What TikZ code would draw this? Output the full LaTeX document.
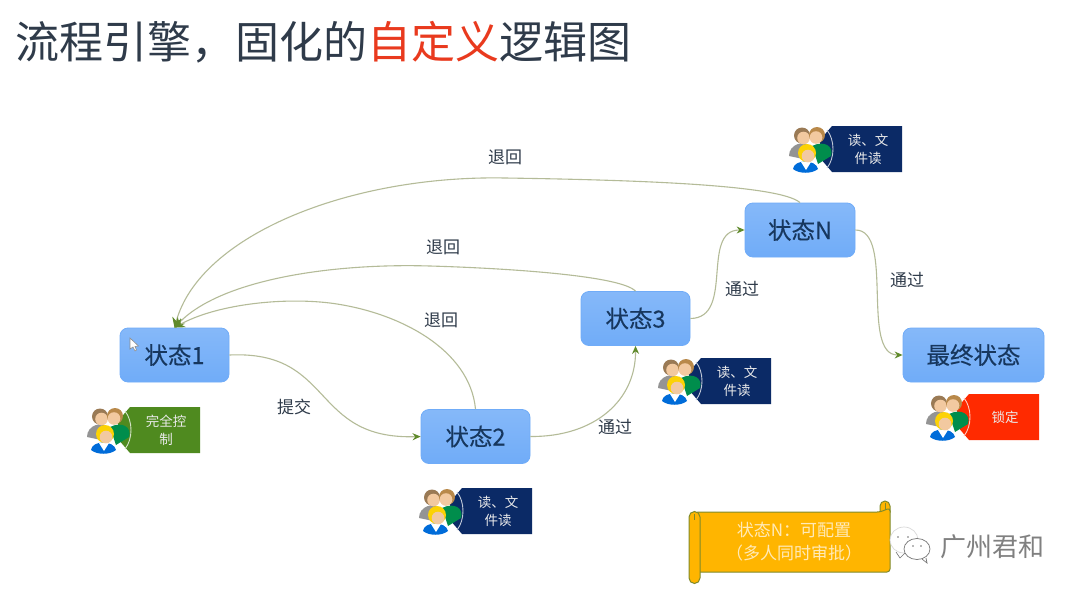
\documentclass[tikz,border=0pt]{standalone}
\usepackage{fontspec}
\setmainfont{Noto Sans CJK SC}
\newfontfamily\medfont[FakeBold=0.3]{Noto Sans CJK SC}
\usetikzlibrary{arrows.meta}
\definecolor{titlec}{HTML}{2F3B4A}
\definecolor{titlered}{HTML}{E93A1E}
\definecolor{nodetext}{HTML}{17375E}
\definecolor{edgec}{HTML}{B4BB98}
\definecolor{headc}{HTML}{5F8A2A}
\definecolor{tagblue}{HTML}{0B2A66}
\definecolor{taggreen}{HTML}{4F8A1F}
\definecolor{tagred}{HTML}{FF2A00}
\definecolor{scrollc}{HTML}{FFB500}
\definecolor{scrolledge}{HTML}{7F8A2A}
\definecolor{BlueN}{HTML}{70ACF8}
\definecolor{labc}{HTML}{2F3B4A}
\definecolor{skinc}{HTML}{F2C9A0}
\definecolor{hairb}{HTML}{9A7A55}
\definecolor{hairo}{HTML}{B9894A}
\tikzset{
  stateb/.style={draw=BlueN,rounded corners=8pt,top color=BlueN!85!white,bottom color=BlueN,line width=0.8pt,text=nodetext,inner sep=0pt,minimum height=54pt,font=\medfont\fontsize{23.5}{28}\selectfont},
  flow/.style={draw=edgec,line width=1.1pt,-{Stealth[length=8pt,width=7pt,fill=headc,color=headc]}},
  backflow/.style={draw=edgec,line width=1.1pt,-{Stealth[length=10pt,width=10pt,fill=headc,color=headc]}},
  edgelab/.style={font=\fontsize{17}{20}\selectfont,text=labc},
  taglab/.style={font=\fontsize{13.5}{18}\selectfont,text=white!92!black,align=center,inner sep=0pt},
}
% name, x, y of tag's top-left corner, colour, text
\newcommand{\badge}[5]{%
  \begin{scope}[shift={(#2,#3)}]
    \fill[#4] (0,0) -- (70,0) -- (70,46) -- (0,46) -- (-12,32) -- (-12,14) -- cycle;
    % back left figure
    \fill[black!42] (-43,30) .. controls (-43,18) and (-28,14) .. (-22,20) -- (-24,34) -- cycle;
    \fill[hairb] (-30,9.5) circle (8);
    \fill[skinc] (-28.5,12) circle (6.3);
    % back right figure
    \fill[teal!70!green!85!black] (-20,20) .. controls (-8,14) and (2,20) .. (-1,30) -- (-14,38) -- cycle;
    \fill[hairo] (-15,9) circle (8);
    \fill[skinc] (-16,11.5) circle (6.3);
    % front figure
    \fill[blue!50!cyan!85!black] (-39,43) .. controls (-38,33) and (-16,33) .. (-14,43) .. controls (-20,48) and (-33,48) .. cycle;
    \fill[white] (-31,36) -- (-21,36) -- (-26,44) -- cycle;
    \fill[yellow!70!orange] (-25,27) circle (9);
    \fill[skinc] (-24,30) circle (6.3);
    \draw[white!75!#4,line width=0.9pt] (-5,4) .. controls (3,14) and (3,32) .. (-5,42);
    \node[taglab] (#1) at (36,23) {#5};
  \end{scope}}
\begin{document}
\begin{tikzpicture}[x=1pt,y=-1pt]
\useasboundingbox (0,0) rectangle (1080,595);
\fill[white] (0,0) rectangle (1080,595);
% title
\node[anchor=west,inner sep=0pt,font=\fontsize{44}{50}\selectfont,text=titlec] (title) at (15,42) {流程引擎^^^^ff0c固化的\textcolor{titlered}{自定义}逻辑图};
% states
\node[stateb,minimum width=109pt] (s1) at (174.5,355) {状态1};
\node[stateb,minimum width=109pt] (s2) at (475.5,436.5) {状态2};
\node[stateb,minimum width=109pt] (s3) at (635.5,318.5) {状态3};
\node[stateb,minimum width=110pt] (sn) at (800,230) {状态N};
\node[stateb,minimum width=141pt] (sf) at (973.5,355) {最终状态};
% connectors
\draw[flow] (s1.east) .. controls (335,350) and (310,440) .. (s2.west);
\draw[flow] (s2.east) .. controls (595,437) and (636,400) .. (s3.south);
\draw[flow] (s3.east) .. controls (735,318) and (700,230) .. (sn.west);
\draw[flow] (sn.east) .. controls (895,230) and (860,355) .. (sf.west);
\draw[backflow] (sn.north) .. controls (780,185) and (640,180) .. (505,178) .. controls (350,175) and (200,235) .. (s1.north);
\draw[backflow] (s3.north) .. controls (620,275) and (500,268) .. (430,266) .. controls (330,263) and (220,280) .. (s1.north);
\draw[backflow] (s2.north) .. controls (470,350) and (400,312) .. (330,303) .. controls (280,297) and (215,305) .. (s1.north);
% edge labels
\node[edgelab] (l1) at (505,157) {退回};
\node[edgelab] (l2) at (443,247) {退回};
\node[edgelab] (l3) at (441,320) {退回};
\node[edgelab] (l4) at (294,407) {提交};
\node[edgelab] (l5) at (615,427) {通过};
\node[edgelab] (l6) at (742,289) {通过};
\node[edgelab] (l7) at (907,280) {通过};
% badges
\badge{b1}{130}{407}{taggreen}{完全控\\制}
\badge{b2}{462}{488}{tagblue}{读、文\\件读}
\badge{b3}{701}{358}{tagblue}{读、文\\件读}
\badge{b4}{832}{126}{tagblue}{读、文\\件读}
\badge{b5}{969}{394}{tagred}{锁定}
% cursor
\draw[black!45,fill=white,line width=0.6pt] (130,338) -- (130,349) -- (133,347) -- (135,351) -- (136.5,350) -- (135,346.5) -- (138.5,346) -- cycle;
% scroll
\filldraw[fill=scrollc,draw=scrolledge,line width=1pt] (880,512) -- (880,506) arc (180:360:5) -- (890,512) -- cycle;
\filldraw[fill=scrollc,draw=scrolledge,line width=1pt,rounded corners=3pt] (695,512) -- (880,512) -- (890,508) -- (890,572) -- (695,572) -- cycle;
\filldraw[fill=scrollc,draw=scrolledge,line width=1pt] (689,517) arc (180:360:5.5) -- (700,578) arc (0:180:5.5) -- cycle;
\draw[scrolledge,line width=0.8pt] (885,503) -- (885,510) (694.5,514) -- (694.5,520);
\node[font=\fontsize{17}{23}\selectfont,text=white!72!scrollc,align=center,inner sep=0pt] (note) at (794,542) {状态N^^^^ff1a可配置\\^^^^ff08多人同时审批^^^^ff09};
% watermark
\filldraw[fill=white,draw=black!15,line width=0.7pt] (904,540) ellipse (14 and 13);
\draw[black!55,line width=0.6pt] (896,552) -- (900,558) -- (905,553);
\fill[black!55] (898,537) circle (0.9) (908,537) circle (0.9);
\filldraw[fill=white,draw=black!55,line width=0.7pt] (917,549) ellipse (13 and 10.5);
\draw[black!55,line width=0.7pt] (922,559) -- (927,563) -- (926,558);
\fill[black!55] (913,546) circle (0.9) (921,546) circle (0.9);
\node[anchor=west,inner sep=0pt,font=\fontsize{26}{30}\selectfont,text=black!50] (wm) at (940,547) {广州君和};
\end{tikzpicture}
\end{document}
